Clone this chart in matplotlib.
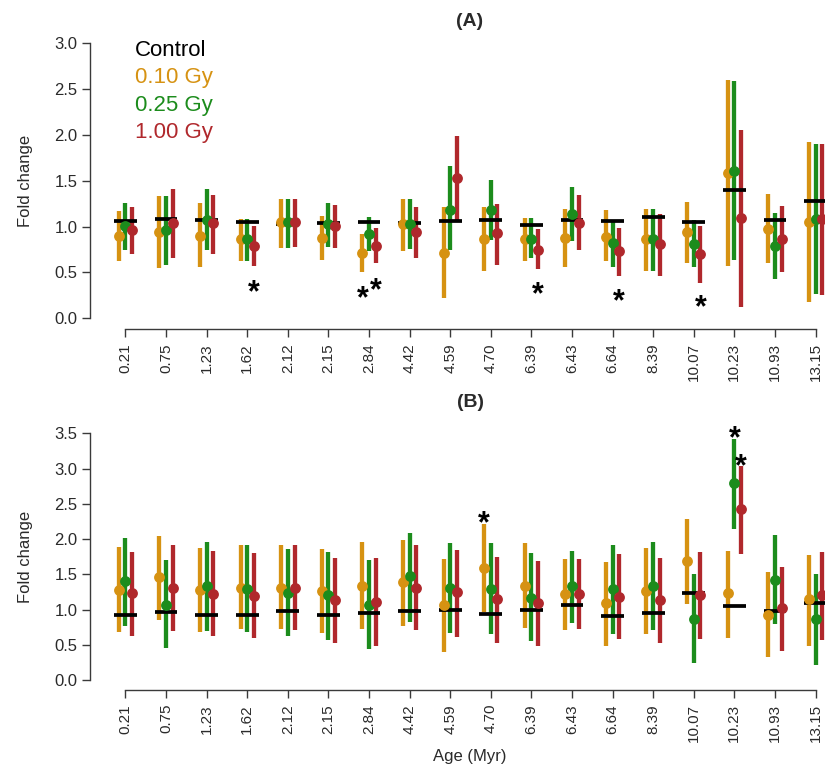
import matplotlib
matplotlib.use("Agg")
import matplotlib.pyplot as plt
import numpy as np

plt.rcParams['font.family'] = ['Liberation Sans', 'DejaVu Sans']

ages = ["0.21", "0.75", "1.23", "1.62", "2.12", "2.15", "2.84", "4.42", "4.59",
        "4.70", "6.39", "6.43", "6.64", "8.39", "10.07", "10.23", "10.93", "13.15"]

dose_labels = ["Control", "0.10 Gy", "0.25 Gy", "1.00 Gy"]
dose_colors = ["#000000", "#D69212", "#1C8C1C", "#B0282C"]

# ---------------- Panel A ----------------
ctrl_A = [1.06, 1.08, 1.07, 1.05, 1.03, 1.04, 1.05, 1.04, 1.06,
          1.07, 1.02, 1.07, 1.06, 1.11, 1.05, 1.40, 1.07, 1.28]
g010_A = [0.90, 0.94, 0.90, 0.86, 1.05, 0.88, 0.71, 1.03, 0.71,
          0.86, 0.87, 0.88, 0.89, 0.86, 0.94, 1.59, 0.97, 1.05]
g010_A_hi = [1.17, 1.33, 1.26, 1.08, 1.30, 1.12, 0.92, 1.30, 1.21,
             1.21, 1.09, 1.19, 1.18, 1.19, 1.27, 2.60, 1.36, 1.92]
g010_A_lo = [0.63, 0.55, 0.56, 0.62, 0.77, 0.64, 0.51, 0.73, 0.22,
             0.52, 0.63, 0.56, 0.62, 0.52, 0.60, 0.57, 0.60, 0.18]
g025_A = [1.01, 0.96, 1.07, 0.86, 1.05, 1.03, 0.92, 1.03, 1.18,
          1.18, 0.87, 1.14, 0.82, 0.86, 0.81, 1.61, 0.79, 1.08]
g025_A_hi = [1.26, 1.33, 1.41, 1.08, 1.30, 1.26, 1.10, 1.30, 1.66,
             1.51, 1.09, 1.43, 1.05, 1.19, 1.07, 2.59, 1.15, 1.90]
g025_A_lo = [0.75, 0.58, 0.74, 0.63, 0.77, 0.78, 0.73, 0.76, 0.74,
             0.85, 0.66, 0.84, 0.56, 0.52, 0.56, 0.64, 0.43, 0.26]
g100_A = [0.96, 1.04, 1.04, 0.79, 1.05, 1.01, 0.79, 0.94, 1.53,
          0.93, 0.75, 1.04, 0.73, 0.81, 0.70, 1.09, 0.87, 1.08]
g100_A_hi = [1.21, 1.41, 1.34, 1.01, 1.30, 1.24, 0.98, 1.21, 1.99,
             1.25, 0.97, 1.34, 0.99, 1.14, 1.01, 2.05, 1.23, 1.90]
g100_A_lo = [0.70, 0.66, 0.70, 0.57, 0.78, 0.77, 0.60, 0.66, 1.05,
             0.58, 0.54, 0.75, 0.46, 0.46, 0.39, 0.12, 0.51, 0.25]
# significance marks: (group index, dose index 1..3, y)
star_A = [(3, 3, 0.38), (6, 1, 0.32), (6, 3, 0.41), (10, 3, 0.36),
          (12, 3, 0.29), (14, 3, 0.22)]

# ---------------- Panel B ----------------
ctrl_B = [0.93, 0.96, 0.92, 0.93, 0.98, 0.92, 0.95, 0.98, 1.00,
          0.94, 1.00, 1.07, 0.91, 0.95, 1.24, 1.05, 0.98, 1.10]
g010_B = [1.28, 1.46, 1.28, 1.31, 1.31, 1.26, 1.34, 1.39, 1.07,
          1.59, 1.33, 1.22, 1.09, 1.27, 1.69, 1.23, 0.92, 1.15]
g010_B_hi = [1.89, 2.05, 1.87, 1.92, 1.92, 1.86, 1.96, 1.98, 1.72,
             2.21, 1.94, 1.72, 1.68, 1.87, 2.28, 1.83, 1.53, 1.78]
g010_B_lo = [0.68, 0.85, 0.68, 0.72, 0.73, 0.67, 0.73, 0.77, 0.40,
             0.96, 0.74, 0.71, 0.48, 0.65, 1.08, 0.60, 0.33, 0.49]
g025_B = [1.40, 1.07, 1.34, 1.29, 1.24, 1.20, 1.07, 1.47, 1.31,
          1.29, 1.17, 1.33, 1.29, 1.33, 0.87, 2.79, 1.42, 0.86]
g025_B_hi = [2.02, 1.70, 1.96, 1.92, 1.86, 1.81, 1.71, 2.09, 1.94,
             1.95, 1.80, 1.83, 1.92, 1.96, 1.50, 3.42, 2.06, 1.51]
g025_B_lo = [0.77, 0.46, 0.70, 0.68, 0.62, 0.57, 0.44, 0.83, 0.67,
             0.66, 0.56, 0.81, 0.66, 0.71, 0.24, 2.14, 0.80, 0.22]
g100_B = [1.23, 1.30, 1.22, 1.19, 1.31, 1.14, 1.11, 1.31, 1.25,
          1.15, 1.09, 1.22, 1.18, 1.14, 1.21, 2.42, 1.02, 1.20]
g100_B_hi = [1.81, 1.91, 1.83, 1.80, 1.92, 1.73, 1.73, 1.92, 1.85,
             1.75, 1.69, 1.72, 1.79, 1.73, 1.81, 3.04, 1.61, 1.82]
g100_B_lo = [0.62, 0.70, 0.63, 0.60, 0.71, 0.52, 0.48, 0.71, 0.61,
             0.52, 0.49, 0.73, 0.58, 0.52, 0.58, 1.79, 0.41, 0.57]
star_B = [(9, 1, 2.35), (15, 2, 3.56), (15, 3, 3.16)]

W, H = 825, 773
fig = plt.figure(figsize=(W / 100, H / 100), dpi=100)


def add_axes(left, top, right, bottom):
    return fig.add_axes([left / W, 1 - bottom / H, (right - left) / W, (bottom - top) / H])


axA = add_axes(90, 32.3, 851, 329.3)
axB = add_axes(90, 423.4, 851, 690)

offsets = [0.0, -0.165, 0.0, 0.165]
axis_col = "#3a3a3a"
text_col = "#2a2a2a"


def draw_panel(ax, ctrl, series, stars, ymax, yticks):
    x = np.arange(1, len(ages) + 1)
    for k, (m, lo, hi) in enumerate(series, start=1):
        ax.vlines(x + offsets[k], lo, hi, color=dose_colors[k], lw=3.1, zorder=2)
    ax.hlines(ctrl, x - 0.28, x + 0.28, color=dose_colors[0], lw=2.7, zorder=3)
    for k, (m, lo, hi) in enumerate(series, start=1):
        ax.plot(x + offsets[k], m, 'o', ms=7.8, color=dose_colors[k], mec='none', zorder=4)
    for (gi, di, yv) in stars:
        ax.annotate('*', xy=(x[gi] + offsets[di], yv), xytext=(0, -13),
                    textcoords='offset points', ha='center', va='baseline',
                    fontsize=22, fontweight='bold', color='black', zorder=5)
    ax.set_xlim(0.126, 18.874)
    ax.set_ylim(-0.04 * ymax, ymax * 1.04)
    for s in ['top', 'right']:
        ax.spines[s].set_visible(False)
    ax.spines['left'].set_bounds(0, ymax)
    ax.spines['bottom'].set_bounds(1, 18)
    for s in ['left', 'bottom']:
        ax.spines[s].set_color(axis_col)
        ax.spines[s].set_linewidth(1.0)
    ax.set_yticks(yticks)
    ax.set_yticklabels([f"{t:.1f}" for t in yticks])
    ax.set_xticks(x)
    ax.set_xticklabels(ages, rotation=90, va='top', ha='center')
    ax.tick_params(axis='both', colors=axis_col, labelcolor=text_col,
                   length=6, width=1.0)
    ax.tick_params(axis='y', labelsize=12, pad=3)
    ax.tick_params(axis='x', labelsize=11, pad=4)
    ax.set_ylabel("Fold change", fontsize=12, color=text_col)
    ax.yaxis.set_label_coords(-(90 - 33) / 761, 0.5)
    ax.patch.set_alpha(0)


draw_panel(axA, ctrl_A,
           [(g010_A, g010_A_lo, g010_A_hi), (g025_A, g025_A_lo, g025_A_hi),
            (g100_A, g100_A_lo, g100_A_hi)],
           star_A, 3.0, [0.0, 0.5, 1.0, 1.5, 2.0, 2.5, 3.0])
draw_panel(axB, ctrl_B,
           [(g010_B, g010_B_lo, g010_B_hi), (g025_B, g025_B_lo, g025_B_hi),
            (g100_B, g100_B_lo, g100_B_hi)],
           star_B, 3.5, [0.0, 0.5, 1.0, 1.5, 2.0, 2.5, 3.0, 3.5])

# panel titles
fig.text(470 / W, 1 - 21 / H, "(A)", ha='center', va='center', fontsize=14,
         fontweight='bold', color=text_col)
fig.text(470 / W, 1 - 403 / H, "(B)", ha='center', va='center', fontsize=14,
         fontweight='bold', color=text_col)

# x axis title
fig.text(470 / W, 1 - 757 / H, "Age (Myr)", ha='center', va='center', fontsize=12,
         color=text_col)

# legend (panel A)
for i, (lab, col) in enumerate(zip(dose_labels, dose_colors)):
    fig.text(135 / W, 1 - (50 + 27.5 * i) / H, lab, ha='left', va='center',
             fontsize=16, color=col)

fig.savefig("out.png", dpi=100)
